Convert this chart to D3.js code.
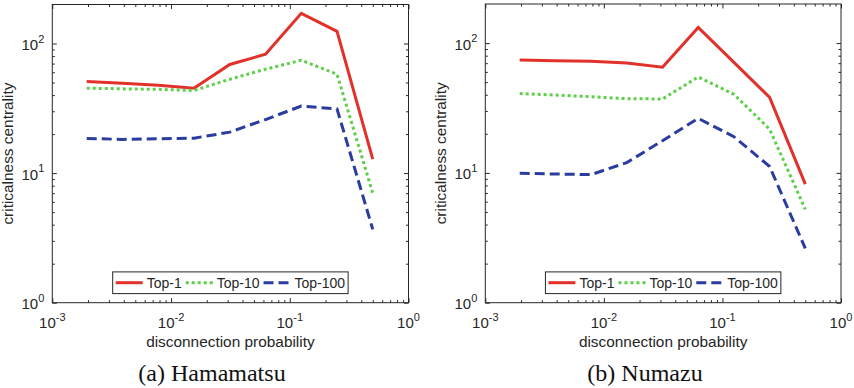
<!DOCTYPE html>
<html lang="en">
<head>
    <meta charset="UTF-8">
    <title>Criticalness centrality vs disconnection probability</title>
    <script src="https://d3js.org/d3.v7.min.js"></script>
    <style>
        body { margin: 0; background: #fff; }
        text { font-family: "Liberation Sans", Arial, sans-serif; fill: #262626; }
        .caption { font-family: "Liberation Serif", "Times New Roman", serif; fill: #111; }
    </style>
</head>
<body>
    <svg width="854" height="388"></svg>

    <script>
        // Data
        const xVals = [0.00195, 0.0039, 0.0078, 0.0156, 0.03125, 0.0625, 0.125, 0.25, 0.5];
        const seriesNames = ["Top-1", "Top-10", "Top-100"];

        const hamaTop1 = [51, 49.4, 47.7, 45.2, 68.9, 82.7, 171, 124, 12.8];
        const hamaTop10 = [45.2, 44.7, 44.3, 43.4, 53, 63.4, 74.3, 58, 7.0];
        const hamaTop100 = [18.5, 18.2, 18.4, 18.6, 20.7, 25.9, 32.9, 31.3, 3.68];

        const numaTop1 = [74.1, 73.2, 72.4, 70.3, 65.1, 132, 71, 38.2, 8.2];
        const numaTop10 = [40.8, 39.8, 38.6, 37.3, 37.1, 54.8, 40.3, 21.7, 5.24];
        const numaTop100 = [9.93, 9.8, 9.7, 12.0, 17.7, 26.3, 19, 11.2, 2.62];

        const xTickExps = [-3, -2, -1, 0];
        const yTickExps = [0, 1, 2];
        const captions = ["(a) Hamamatsu", "(b) Numazu"];

        const colors = ["#e2312a", "#5ecf4a", "#2a3c9e"];
        const dashes = [null, "3,3", "10,5"];

        const svg = d3.select("svg");

        function drawPanel(box, series, caption) {
            const g = svg.append("g");

            const x = d3.scaleLog().domain([1e-3, 1]).range([box.x0, box.x1]);
            const y = d3.scaleLog().domain([1, 200]).range([box.y1, box.y0]);

            const xMajor = xTickExps.map(e => Math.pow(10, e));
            const yMajor = yTickExps.map(e => Math.pow(10, e));
            const isMajor = v => Math.abs(Math.log10(v) - Math.round(Math.log10(v))) < 1e-9;
            const xMinor = x.ticks().filter(v => !isMajor(v));
            const yMinor = y.ticks().filter(v => !isMajor(v) && v < 200);

            // box frame
            g.append("rect")
                .attr("x", box.x0).attr("y", box.y0)
                .attr("width", box.x1 - box.x0).attr("height", box.y1 - box.y0)
                .attr("fill", "#fff").attr("stroke", "#262626").attr("stroke-width", 1);

            // inward ticks on all four sides
            const axes = [
                [d3.axisBottom(x), `translate(0,${box.y1})`, xMajor, xMinor],
                [d3.axisTop(x), `translate(0,${box.y0})`, xMajor, xMinor],
                [d3.axisLeft(y), `translate(${box.x0},0)`, yMajor, yMinor],
                [d3.axisRight(y), `translate(${box.x1},0)`, yMajor, yMinor]
            ];
            axes.forEach(([ax, tr, major, minor]) => {
                const a1 = g.append("g").attr("transform", tr)
                    .call(ax.tickValues(major).tickSize(-4.5).tickSizeOuter(0).tickFormat(""));
                const a2 = g.append("g").attr("transform", tr)
                    .call(ax.tickValues(minor).tickSize(-2.5).tickSizeOuter(0).tickFormat(""));
                [a1, a2].forEach(a => {
                    a.select(".domain").remove();
                    a.selectAll("line").attr("stroke", "#262626");
                });
            });

            // tick labels with exponents
            xTickExps.forEach(e => {
                const t = g.append("text")
                    .attr("x", x(Math.pow(10, e)))
                    .attr("y", box.y1 + 25)
                    .attr("text-anchor", "middle")
                    .style("font-size", "15px");
                t.append("tspan").text("10");
                t.append("tspan").attr("dy", -6.5).style("font-size", "11px").text(e);
            });
            yTickExps.forEach(e => {
                const t = g.append("text")
                    .attr("x", box.x0 - 8)
                    .attr("y", y(Math.pow(10, e)) + 6.5)
                    .attr("text-anchor", "end")
                    .style("font-size", "15px");
                t.append("tspan").text("10");
                t.append("tspan").attr("dy", -7.5).style("font-size", "11px").text(e);
            });

            // axis titles
            g.append("text")
                .attr("x", (box.x0 + box.x1) / 2)
                .attr("y", box.y1 + 44)
                .attr("text-anchor", "middle")
                .style("font-size", "15.4px")
                .text("disconnection probability");
            g.append("text")
                .attr("transform", `translate(${box.x0 - 39},${(box.y0 + box.y1) / 2}) rotate(-90)`)
                .attr("text-anchor", "middle")
                .style("font-size", "15.4px")
                .text("criticalness centrality");

            // series lines
            const line = d3.line()
                .x((d, i) => x(xVals[i]))
                .y(d => y(d));
            series.forEach((s, i) => {
                g.append("path")
                    .datum(s)
                    .attr("fill", "none")
                    .attr("stroke", colors[i])
                    .attr("stroke-width", 3)
                    .attr("stroke-dasharray", dashes[i])
                    .attr("stroke-linejoin", "miter")
                    .attr("d", line);
            });

            // legend
            const legend = g.append("g");
            const lgBox = legend.append("rect")
                .attr("fill", "#fff").attr("stroke", "#262626").attr("stroke-width", 1);
            const lgY = box.y1 - 20;
            let cx = 3;
            const items = legend.append("g");
            seriesNames.forEach((name, i) => {
                items.append("line")
                    .attr("x1", cx).attr("x2", cx + 27)
                    .attr("y1", lgY).attr("y2", lgY)
                    .attr("stroke", colors[i]).attr("stroke-width", 3)
                    .attr("stroke-dasharray", dashes[i]);
                const t = items.append("text")
                    .attr("x", cx + 31).attr("y", lgY + 5)
                    .style("font-size", "14px")
                    .text(name);
                cx += 31 + t.node().getComputedTextLength() + 4;
            });
            const lgW = cx - 1;
            const lgX = (box.x0 + box.x1) / 2 - lgW / 2;
            items.attr("transform", `translate(${lgX},0)`);
            lgBox.attr("x", lgX).attr("y", lgY - 10.8)
                .attr("width", lgW).attr("height", 21.7);

            // caption
            g.append("text")
                .attr("class", "caption")
                .attr("x", box.cap)
                .attr("y", 381)
                .attr("text-anchor", "middle")
                .style("font-size", "24px")
                .text(caption);
        }

        drawPanel({ x0: 52.3, x1: 408.5, y0: 4.5, y1: 302.7, cap: 212 },
            [hamaTop1, hamaTop10, hamaTop100], captions[0]);
        drawPanel({ x0: 485.3, x1: 841, y0: 4, y1: 302.7, cap: 645 },
            [numaTop1, numaTop10, numaTop100], captions[1]);
    </script>
</body>
</html>
